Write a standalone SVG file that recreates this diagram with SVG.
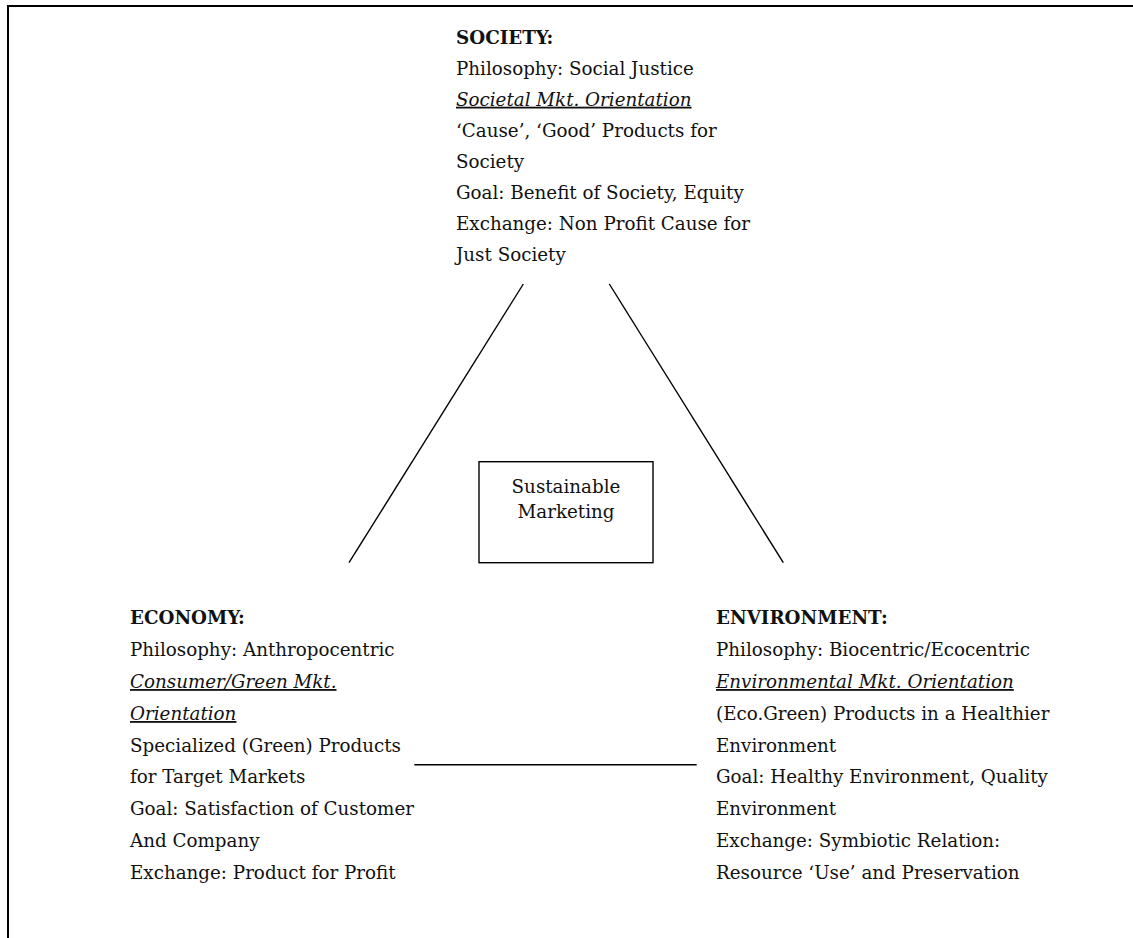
<svg xmlns="http://www.w3.org/2000/svg" width="1133" height="938" viewBox="0 0 1133 938">
<style>
text{font-family:"DejaVu Serif","Liberation Serif",serif;font-size:18.3px;fill:#111;}
.h{font-weight:bold;}
.o{font-style:italic;text-decoration:underline;}
.ln{stroke:#000;stroke-width:1.4;fill:none;}
.c{text-anchor:middle;}
</style>
<rect width="1133" height="938" fill="#fff"/>
<g id="frame"><path d="M8 938 V6 H1133" fill="none" stroke="#000" stroke-width="2"/></g>
<g id="connectors">
<line class="ln" x1="523.3" y1="284" x2="349" y2="562.7"/>
<line class="ln" x1="609.3" y1="284" x2="783.3" y2="562.7"/>
<line class="ln" x1="414.3" y1="764.7" x2="696.7" y2="764.7" stroke-width="1.6"/>
</g>
<g id="society">
<text x="456" y="43.5" class="h">SOCIETY:</text>
<text x="456" y="74.6">Philosophy: Social Justice</text>
<text x="456" y="105.7" class="o">Societal Mkt. Orientation</text>
<text x="456" y="136.8">‘Cause’, ‘Good’ Products for</text>
<text x="456" y="167.9">Society</text>
<text x="456" y="199">Goal: Benefit of Society, Equity</text>
<text x="456" y="230.1">Exchange: Non Profit Cause for</text>
<text x="456" y="261.2">Just Society</text>
</g>
<g id="sustainable">
<rect x="479" y="461.7" width="174" height="101" fill="none" stroke="#000" stroke-width="1.4"/>
<text x="566" y="492.7" class="c">Sustainable</text>
<text x="566" y="517.5" class="c">Marketing</text>
</g>
<g id="economy">
<text x="130" y="624.3" class="h">ECONOMY:</text>
<text x="130" y="656">Philosophy: Anthropocentric</text>
<text x="130" y="688" class="o">Consumer/Green Mkt.</text>
<text x="130" y="720" class="o">Orientation</text>
<text x="130" y="751.7">Specialized (Green) Products</text>
<text x="130" y="783.3">for Target Markets</text>
<text x="130" y="815">Goal: Satisfaction of Customer</text>
<text x="130" y="846.7">And Company</text>
<text x="130" y="879">Exchange: Product for Profit</text>
</g>
<g id="environment">
<text x="716" y="624.3" class="h">ENVIRONMENT:</text>
<text x="716" y="656">Philosophy: Biocentric/Ecocentric</text>
<text x="716" y="688" class="o">Environmental Mkt. Orientation</text>
<text x="716" y="720">(Eco.Green) Products in a Healthier</text>
<text x="716" y="751.7">Environment</text>
<text x="716" y="783.3">Goal: Healthy Environment, Quality</text>
<text x="716" y="815">Environment</text>
<text x="716" y="846.7">Exchange: Symbiotic Relation:</text>
<text x="716" y="879">Resource ‘Use’ and Preservation</text>
</g>
</svg>
